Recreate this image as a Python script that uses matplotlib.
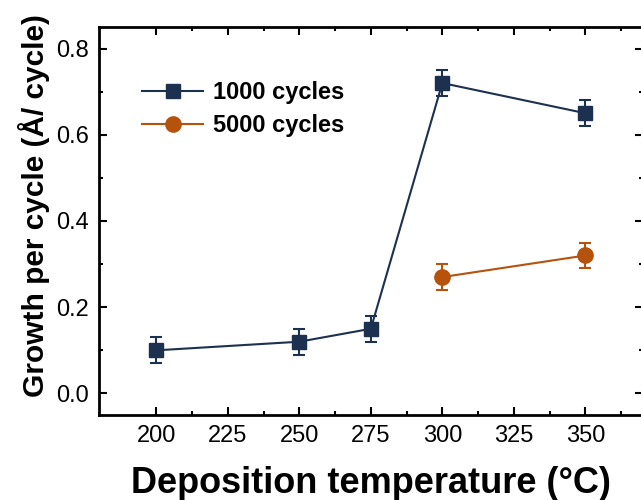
import matplotlib.pyplot as plt
from matplotlib.lines import Line2D

plt.rcParams['font.family'] = ['Liberation Sans', 'DejaVu Sans']

temps_1000 = [200, 250, 275, 300, 350]
gpc_1000 = [0.10, 0.12, 0.15, 0.72, 0.65]
err_1000 = [0.03, 0.03, 0.03, 0.03, 0.03]

temps_5000 = [300, 350]
gpc_5000 = [0.27, 0.32]
err_5000 = [0.03, 0.03]

labels = ['1000 cycles', '5000 cycles']
navy = '#1c3050'
orange = '#b5520c'

fig = plt.figure(figsize=(6.41, 5.0), dpi=100)
ax = fig.add_axes([0.1545, 0.17, 0.848, 0.776])

ax.errorbar(temps_1000, gpc_1000, yerr=err_1000, color=navy, marker='s',
            markersize=10.5, linewidth=1.5, capsize=4, elinewidth=1.5,
            capthick=1.5)
ax.errorbar(temps_5000, gpc_5000, yerr=err_5000, color=orange, marker='o',
            markersize=11, linewidth=1.5, capsize=4, elinewidth=1.5,
            capthick=1.5)

ax.set_xlim(180, 370)
ax.set_ylim(-0.05, 0.85)
ax.set_xticks([200, 225, 250, 275, 300, 325, 350])
ax.set_xticks([212.5, 237.5, 262.5, 287.5, 312.5, 337.5, 362.5], minor=True)
ax.set_yticks([0.0, 0.2, 0.4, 0.6, 0.8])
ax.set_yticks([0.1, 0.3, 0.5, 0.7], minor=True)
ax.set_yticklabels(['0.0', '0.2', '0.4', '0.6', '0.8'])

ax.tick_params(which='both', direction='in', top=True, right=True,
               width=1.5, labelsize=17)
ax.tick_params(which='major', length=6, pad=7)
ax.tick_params(which='minor', length=3)
for s in ax.spines.values():
    s.set_linewidth(2)

ax.set_xlabel('Deposition temperature (°C)', fontsize=26, fontweight='bold',
              labelpad=14)
ax.set_ylabel('Growth per cycle (Å/ cycle)', fontsize=21.5, fontweight='bold')
ax.yaxis.set_label_coords(-0.09, 0.541)

handles = [Line2D([], [], color=navy, marker='s', markersize=10.5, linewidth=1.5),
           Line2D([], [], color=orange, marker='o', markersize=11, linewidth=1.5)]
ax.legend(handles, labels, loc='upper left', bbox_to_anchor=(0.079, 0.86),
          frameon=False, borderaxespad=0, borderpad=0,
          prop={'size': 17, 'weight': 'bold'}, handlelength=2.6,
          handletextpad=0.4, labelspacing=0.4)

fig.savefig('out.png', dpi=100)
